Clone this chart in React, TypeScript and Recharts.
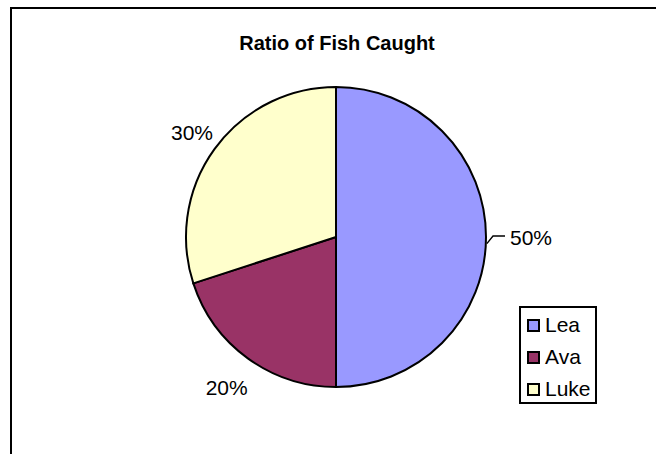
import React from 'react';
import { Cell, Legend, Pie, PieChart } from 'recharts';

const names = ['Lea', 'Ava', 'Luke'];
const shares = [50, 20, 30];
const colors = ['#9999FF', '#993366', '#FFFFCC'];
// distance of each label centre from the pie centre
const labelRadius = [195, 186, 178];

const data = names.map((name, i) => ({ name, value: shares[i] }));

const RAD = Math.PI / 180;
const font = '"Liberation Sans", Arial, sans-serif';

const renderLabel = (props: any) => {
  const { cx, cy, midAngle, index, outerRadius } = props;
  const r = labelRadius[index];
  const x = cx + r * Math.cos(-midAngle * RAD);
  const y = cy + r * Math.sin(-midAngle * RAD);
  const text = `${shares[index]}%`;
  if (index === 0) {
    const a = (midAngle - 2.5) * RAD;
    const sx = cx + (outerRadius + 1) * Math.cos(-a);
    const sy = cy + (outerRadius + 1) * Math.sin(-a);
    return (
      <g>
        <polyline
          points={`${sx},${sy} ${cx + outerRadius + 7},${y - 1} ${cx + outerRadius + 19},${y - 1}`}
          fill="none"
          stroke="#000"
          strokeWidth={1.4}
        />
        <text x={x} y={y} textAnchor="middle" dominantBaseline="central" fontSize={21} fontFamily={font} fill="#000">
          {text}
        </text>
      </g>
    );
  }
  return (
    <text x={x} y={y} textAnchor="middle" dominantBaseline="central" fontSize={21} fontFamily={font} fill="#000">
      {text}
    </text>
  );
};

const LegendBox = () => (
  <div
    style={{
      border: '2px solid #000',
      width: 74,
      height: 93,
      boxSizing: 'content-box',
      fontFamily: font,
      fontSize: 21,
      background: '#fff',
      paddingTop: 1,
      overflow: 'visible',
    }}
  >
    {names.map((n, i) => (
      <div key={n} style={{ display: 'flex', alignItems: 'center', height: 32, paddingLeft: 6 }}>
        <span
          style={{
            display: 'inline-block',
            width: 9,
            height: 9,
            border: '2px solid #000',
            background: colors[i],
            marginRight: 5,
          }}
        />
        <span>{n}</span>
      </div>
    ))}
  </div>
);

export default function App() {
  return (
    <div style={{ position: 'absolute', left: 0, top: 0, width: 656, height: 454, overflow: 'hidden', background: '#fff' }}>
      <div
        style={{
          position: 'absolute',
          left: 10,
          top: 7,
          width: 700,
          height: 500,
          borderTop: '2px solid #000',
          borderLeft: '2px solid #000',
        }}
      />
      <div
        style={{
          position: 'absolute',
          left: 0,
          width: 674,
          top: 32,
          lineHeight: '23px',
          textAlign: 'center',
          fontFamily: font,
          fontWeight: 'bold',
          fontSize: 20,
          color: '#000',
        }}
      >
        Ratio of Fish Caught
      </div>
      <div style={{ position: 'absolute', left: 0, top: 0 }}>
        <PieChart width={656} height={454} margin={{ top: 0, right: 0, bottom: 0, left: 0 }}>
          <Pie
            data={data}
            dataKey="value"
            nameKey="name"
            cx={336}
            cy={237}
            outerRadius={150}
            startAngle={90}
            endAngle={-270}
            stroke="#000"
            strokeWidth={2}
            label={renderLabel}
            labelLine={false}
            isAnimationActive={false}
          >
            {data.map((d, i) => (
              <Cell key={d.name} fill={colors[i]} />
            ))}
          </Pie>
          <Legend
            content={<LegendBox />}
            layout="vertical"
            wrapperStyle={{ position: 'absolute', left: 519, top: 306, width: 'auto' }}
          />
        </PieChart>
      </div>
    </div>
  );
}
